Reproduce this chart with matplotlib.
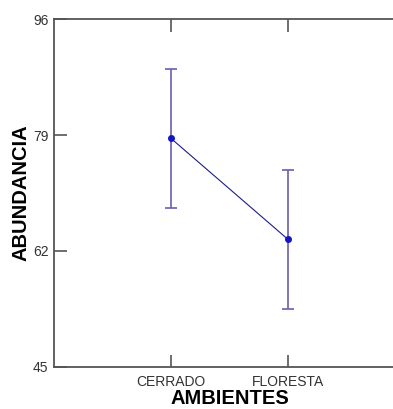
import matplotlib
matplotlib.use('Agg')
import matplotlib.pyplot as plt
import numpy as np

ambientes = ['CERRADO', 'FLORESTA']
medias = [78.5, 63.7]
erros = [10.2, 10.2]
yticks = [45, 62, 79, 96]

plt.rcParams['font.family'] = ['Liberation Sans', 'DejaVu Sans']

fig = plt.figure(figsize=(3.93, 4.09), dpi=100)
ax = fig.add_axes([54 / 393, 1 - 367 / 409, 351 / 393, 348 / 409])

x = np.arange(1, len(ambientes) + 1)
ax.errorbar(x, medias, yerr=erros, fmt='none', ecolor='#6a5fb0', elinewidth=1.2,
            capsize=4, capthick=1.2, zorder=2)
ax.plot(x, medias, color='#1c1c8c', linewidth=0.8, zorder=3)
ax.plot(x, medias, 'o', color='#1515c8', markersize=4, zorder=4)

ax.set_xlim(0, 3)
ax.set_ylim(45, 96)
ax.set_xticks(x)
ax.set_xticklabels(ambientes)
ax.set_yticks(yticks)
ax.tick_params(direction='in', length=9, width=1.2, color='#555555',
               labelsize=10, labelcolor='#333333', top=True, right=False)
ax.tick_params(axis='x', pad=6)
ax.tick_params(axis='y', pad=4)
ax.spines['right'].set_visible(False)
for s in ax.spines.values():
    s.set_color('#555555')
    s.set_linewidth(1.3)

ax.set_xlabel('AMBIENTES', fontsize=14.5, fontweight='bold', labelpad=0)
ax.set_ylabel('ABUNDANCIA', fontsize=14.5, fontweight='bold', labelpad=2)

fig.savefig('out.png', dpi=100)
plt.close(fig)
